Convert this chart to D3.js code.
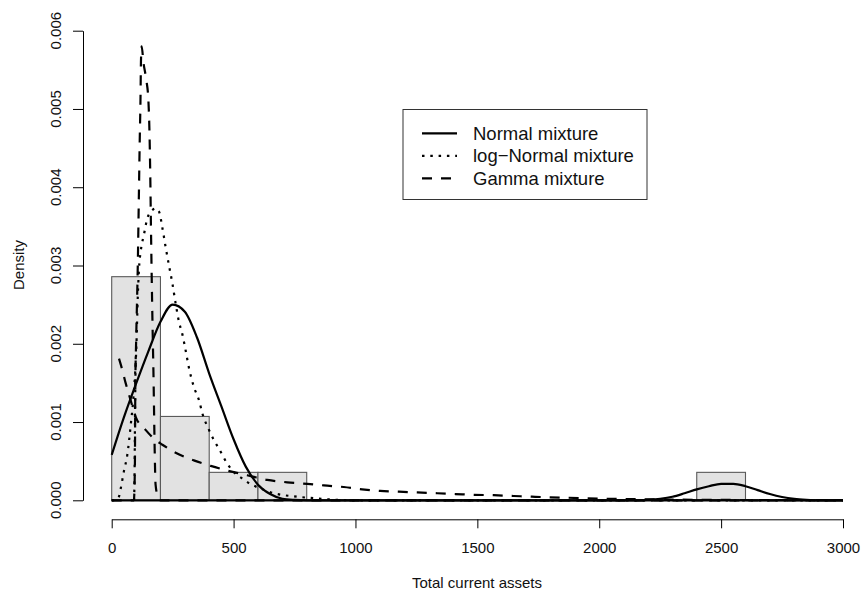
<!DOCTYPE html>
<html><head><meta charset="utf-8">
<script src="https://cdn.jsdelivr.net/npm/d3@7"></script>
<style>body{margin:0;background:#fff}svg{display:block}text{font-family:"Liberation Sans",Arial,sans-serif;fill:#111}</style>
</head><body><svg id="c" width="863" height="593"></svg>
<script>
// ---- data ----
const binEdges = [0,200,400,600,800,1000,1200,1400,1600,1800,2000,2200,2400,2600,2800,3000];
const binCounts = [8,3,1,1,0,0,0,0,0,0,0,0,1,0,0];
const nObs = 14;
const xTicks = [0,500,1000,1500,2000,2500,3000];
const yTicks = [0,0.001,0.002,0.003,0.004,0.005,0.006];

const normalX = [0,50,100,150,200,250,300,350,400,450,500,550,600,650,700,750,800,3000];
const normalY = [0.00058,0.00106,0.00149,0.00190,0.00228,0.00250,0.00241,0.00208,0.00162,0.00120,0.00078,0.00043,0.00020,0.00008,0.00002,0.000005,0,0];
const normal2X = [0,2150,2200,2250,2300,2350,2400,2450,2500,2550,2600,2650,2700,2750,2800,2850,2900,3000];
const normal2Y = [0,0,0.000007,0.00002,0.000045,0.00009,0.00014,0.00018,0.00021,0.00021,0.00018,0.00013,0.00008,0.000042,0.000018,0.000006,0,0];

const lognX = [0,20,30,37,50,64,78,91,101,107,112,119,132,146,167,180,194,208,221,235,249,262,276,290,303,317,337,358,372,399,419,440,474,508,535,563,611,665,747,816,900,1000,3000];
const lognY = [0,0.00001,0.00005,0.00015,0.00037,0.00058,0.00096,0.00139,0.00195,0.0026,0.00296,0.00318,0.00339,0.0036,0.00371,0.00373,0.00369,0.00348,0.00324,0.003,0.00277,0.00252,0.00228,0.00212,0.00192,0.00169,0.00145,0.00128,0.00111,0.0009,0.00077,0.00066,0.00047,0.00034,0.00028,0.00022,0.00015,0.00009,0.00005,0.00003,0.00001,0,0];
const lognSpikeX = [92,94,96,99];
const lognSpikeY = [0,0.0004,0.0012,0.0019];

const gammaX = [30,44,57,71,85,98,139,180,208,255,337,406,474,556,638,720,802,870,952,1027,1102,1178,1253,1335,1410,1485,1567,1649,1724,1799,1867,2000,2200,2500,3000];
const gammaY = [0.00181,0.00166,0.0015,0.00135,0.0012,0.00107,0.0009,0.00077,0.00071,0.00062,0.00051,0.00044,0.00038,0.00032,0.00026,0.00023,0.00021,0.00019,0.00017,0.00014,0.00012,0.00011,0.0001,0.00009,0.00008,0.00007,0.000065,0.000055,0.000046,0.000038,0.000033,0.000022,0.000012,0.000005,0.000001];
const gammaSpikeX = [0,91,95,97,100,107,112,115,118,120,123,130,142,150,155,158,161,166,172,176,180,190,200,3000];
const gammaSpikeY = [0,0,0.0004,0.0015,0.002,0.003,0.004,0.0046,0.0051,0.0056,0.0058,0.0056,0.00537,0.00514,0.0047,0.0042,0.0035,0.0025,0.0015,0.0007,0.0002,0.00004,0,0];

const legendLabels = ["Normal mixture","log\u2212Normal mixture","Gamma mixture"];

// ---- drawing ----
const svg = d3.select("#c");
const x = d3.scaleLinear().domain([0,3000]).range([111.7,843]);
const y = d3.scaleLinear().domain([0,0.006]).range([500.3,30.7]);

// histogram
const bins = binCounts.map((c,i)=>({x0:binEdges[i],x1:binEdges[i+1],d:c/(nObs*(binEdges[i+1]-binEdges[i]))}));
svg.append("g").selectAll("rect").data(bins).join("rect")
  .attr("x",d=>x(d.x0)).attr("width",d=>x(d.x1)-x(d.x0))
  .attr("y",d=>y(d.d)).attr("height",d=>y(0)-y(d.d))
  .attr("fill","#e2e2e2").attr("stroke","#5a5a5a").attr("stroke-width",1.1);

const line = d3.line().x(d=>x(d[0])).y(d=>y(d[1])).curve(d3.curveMonotoneX);
const zip = (a,b)=>a.map((v,i)=>[v,b[i]]);
const styles = {
  solid:{dash:null},
  dotted:{dash:"2.5,5.8"},
  dashed:{dash:"10,9"}
};
function drawCurve(pts, st){
  svg.append("path").attr("d",line(pts)).attr("fill","none").attr("stroke","#000")
    .attr("stroke-width",2.2).attr("stroke-dasharray",styles[st].dash);
}
drawCurve(zip(lognX,lognY),"dotted");
drawCurve(zip(lognSpikeX,lognSpikeY),"dotted");
drawCurve(zip(gammaX,gammaY),"dashed");
drawCurve(zip(gammaSpikeX,gammaSpikeY),"dashed");
drawCurve(zip(normal2X,normal2Y),"solid");
drawCurve(zip(normalX,normalY),"solid");

// x axis
const xa = svg.append("g").attr("transform","translate(0,519.3)")
  .call(d3.axisBottom(x).tickValues(xTicks).tickSize(9).tickSizeOuter(0).tickPadding(14).tickFormat(d3.format("d")));
xa.select(".domain").attr("stroke","#000").attr("stroke-width",1);
xa.selectAll("line").attr("stroke","#000");
xa.selectAll("text").attr("font-size",15).attr("fill","#111").style("font-family","'Liberation Sans',Arial,sans-serif");

// y axis
const ya = svg.append("g").attr("transform","translate(83,0)")
  .call(d3.axisLeft(y).tickValues(yTicks).tickSize(10).tickSizeOuter(0).tickFormat(""));
ya.select(".domain").attr("stroke","#000");
ya.selectAll("line").attr("stroke","#000");
svg.append("g").selectAll("text").data(yTicks).join("text")
  .attr("transform",d=>`translate(61,${y(d)}) rotate(-90)`)
  .attr("text-anchor","middle").attr("font-size",15).text(d3.format(".3f"));

// titles
svg.append("text").attr("x",477).attr("y",588).attr("text-anchor","middle").attr("font-size",15).text("Total current assets");
svg.append("text").attr("transform","translate(24,265) rotate(-90)").attr("text-anchor","middle").attr("font-size",15).text("Density");

// legend
const lg = svg.append("g");
lg.append("rect").attr("x",403).attr("y",109.5).attr("width",244).attr("height",90).attr("fill","#fff").attr("stroke","#333").attr("stroke-width",1);
const rowY = [133.3,155.8,178.3];
const lstyles = ["solid","dotted","dashed"];
legendLabels.forEach((t,i)=>{
  lg.append("line").attr("x1",422).attr("x2",457).attr("y1",rowY[i]).attr("y2",rowY[i])
    .attr("stroke","#000").attr("stroke-width",2.2).attr("stroke-dasharray",styles[lstyles[i]].dash);
  lg.append("text").attr("x",473).attr("y",rowY[i]+6.6).attr("font-size",18.5).text(t);
});
</script></body></html>
